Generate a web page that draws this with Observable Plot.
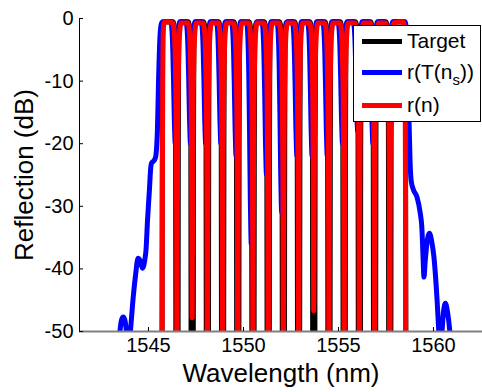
<!DOCTYPE html>
<html><head><meta charset="utf-8">
<script src="https://cdn.jsdelivr.net/npm/d3@7"></script>
<script src="https://cdn.jsdelivr.net/npm/@observablehq/plot@0.6"></script>
<style>
body{margin:0;background:#fff;}
#wrap{position:relative;width:482px;height:392px;font-family:"Liberation Sans",Arial,Helvetica,sans-serif;}
#legend{position:absolute;left:353px;top:25px;width:128px;height:97px;border:1px solid #000;background:#fff;box-sizing:border-box;}
.sw{position:absolute;left:8px;width:40px;height:5px;}
.lab{position:absolute;left:53px;height:24px;line-height:24px;font-size:21px;color:#000;white-space:nowrap;}
</style></head>
<body>
<div id="wrap">
  <div id="chart"></div>
  <div id="legend">
    <div class="sw" style="top:13px;background:#000"></div>
    <div class="lab" style="top:3px">Target</div>
    <div class="sw" style="top:44px;background:#0000ff"></div>
    <div class="lab" style="top:34px">r(T(n<span style="font-size:15px;position:relative;top:6px">s</span>))</div>
    <div class="sw" style="top:77px;background:#ff0000"></div>
    <div class="lab" style="top:67px">r(n)</div>
  </div>
</div>
<script>
// ---- data ----
const xTicks = [1545, 1550, 1555, 1560];
const yTicks = [0, -10, -20, -30, -40, -50];
const xDomain = [1541.37, 1562.58];
const yDomain = [-50, 0];
const flatTop = -0.5;

// channel boundaries (notch centres), nm
const channelDips = [1546.5, 1547.3, 1548.1, 1548.9, 1549.7, 1550.5, 1551.3, 1552.1, 1552.9, 1553.7, 1554.5, 1555.3, 1556.1, 1556.9, 1557.7];

// r(n): notch floors and shape
const redDipFloor = [-80, -47.8, -80, -80, -80, -80, -80, -80, -80, -46.7, -80, -80, -80, -80, -80];
const redNotchOffset = [0.21, 0.17, 0.126, 0.084, 0.053, 0.032, 0.016, 0];
const redNotchDb = [-0.7, -1.3, -3, -7, -13, -22, -35, -80];
const redEdgeLeftWl = [1545.71, 1545.73, 1545.75, 1545.77, 1545.80, 1545.86];
const redEdgeLeftDb = [-80, -30, -10, -3, -1, -0.5];
const redEdgeRightWl = [1558.40, 1558.46, 1558.49, 1558.51, 1558.53, 1558.55];
const redEdgeRightDb = [-0.5, -1, -3, -10, -30, -80];

// Target
const targetNotchOffset = [0.2, 0.09, 0.07, 0.06, 0.055, 0];
const targetNotchDb = [-0.5, -3, -20, -45, -70, -80];
const targetEdgeLeftWl = [1545.70, 1545.72, 1545.74, 1545.80];
const targetEdgeLeftDb = [-80, -40, -3, -0.5];
const targetEdgeRightWl = [1558.46, 1558.52, 1558.54, 1558.56];
const targetEdgeRightDb = [-0.5, -3, -40, -80];

// r(T(n_s))
const blueShift = -0.09;
const blueDipFloor = [-20, -20, -20, -20, -22, -36, -25, -31, -22, -22, -22, -20, -18, -20, -16];
const blueNotchOffset = [0.24, 0.18, 0.13, 0.09, 0.05, 0.02, 0];
const blueNotchFrac = [0.02, 0.08, 0.25, 0.5, 0.8, 0.95, 1];
const blueLeftWl = [1543.38, 1543.5, 1543.58, 1543.67, 1543.76, 1543.84, 1543.95, 1544.05, 1544.16, 1544.32, 1544.45, 1544.55, 1544.68, 1544.82, 1544.87, 1544.95, 1545.05, 1545.11, 1545.16, 1545.26, 1545.37, 1545.47, 1545.53, 1545.61, 1545.68, 1545.75];
const blueLeftDb = [-56, -50, -48.2, -47.7, -48.2, -50, -53, -50, -45.8, -41, -38.3, -38.6, -39.9, -38.3, -37, -32.2, -27.4, -24.2, -23.1, -22.8, -22.2, -17.9, -9.9, -2.7, -0.8, -0.5];
const blueRightWl = [1558.5, 1558.58, 1558.63, 1558.68, 1558.72, 1558.76, 1558.8, 1558.84, 1558.95, 1559.13, 1559.3, 1559.39, 1559.45, 1559.5, 1559.56, 1559.65, 1559.79, 1559.9, 1560.02, 1560.19, 1560.28, 1560.36, 1560.45, 1560.53, 1560.63, 1560.74, 1560.86, 1560.95];
const blueRightDb = [-0.5, -2, -6.7, -12, -17, -22, -25, -26.2, -27.4, -28.5, -31, -33.5, -38, -41.3, -39, -36, -34.3, -35.5, -38, -45, -50, -53, -50, -46.8, -45.5, -46.9, -50, -54];

// ---- build tables ----
function zip(wl, db) { return wl.map((w, i) => ({wl: w, db: db[i]})); }
function notch(center, offsets, dbs) {
  const pts = [];
  for (let k = 0; k < offsets.length; k++) pts.push({wl: center - offsets[k], db: dbs[k]});
  for (let k = offsets.length - 2; k >= 0; k--) pts.push({wl: center + offsets[k], db: dbs[k]});
  return pts;
}
const red = [...zip(redEdgeLeftWl, redEdgeLeftDb)];
channelDips.forEach((c, i) => red.push(...notch(c, redNotchOffset, redNotchDb.map(v => Math.max(v, redDipFloor[i])))));
red.push(...zip(redEdgeRightWl, redEdgeRightDb));

const target = [...zip(targetEdgeLeftWl, targetEdgeLeftDb)];
channelDips.forEach(c => target.push(...notch(c, targetNotchOffset, targetNotchDb)));
target.push(...zip(targetEdgeRightWl, targetEdgeRightDb));

const blue = [...zip(blueLeftWl, blueLeftDb)];
channelDips.forEach((c, i) => blue.push(...notch(c + blueShift, blueNotchOffset, blueNotchFrac.map(f => Math.min(flatTop, f * blueDipFloor[i])))));
blue.push(...zip(blueRightWl, blueRightDb));

const W = 482, H = 392, mL = 79, mR = 0, mT = 18, mB = 61;
const FONT = "'Liberation Sans', Arial, Helvetica, sans-serif";
const lineOpts = {x: "wl", y: "db", strokeWidth: 5, clip: true, curve: "monotone-x", strokeLinejoin: "round", strokeLinecap: "round"};

const chart = Plot.plot({
  width: W, height: H,
  marginLeft: mL, marginRight: mR, marginTop: mT, marginBottom: mB,
  style: {fontFamily: FONT, fontSize: "20px", color: "#000", background: "#fff"},
  x: {domain: xDomain},
  y: {domain: yDomain},
  marks: [
    Plot.line(target, {...lineOpts, stroke: "#000000"}),
    Plot.line(blue, {...lineOpts, stroke: "#0000ff"}),
    Plot.line(red, {...lineOpts, stroke: "#ff0000"}),
    Plot.ruleY([yDomain[0]], {stroke: "#808080", strokeWidth: 2}),
    Plot.ruleX([xDomain[0]], {stroke: "#000", strokeWidth: 1}),
    Plot.tickX(xTicks, {x: d => d, stroke: "#000", insetTop: (H - mT - mB) - 4}),
    Plot.tickY(yTicks, {y: d => d, stroke: "#000", insetRight: (W - mL - mR) - 4}),
    Plot.axisX(xTicks, {tickSize: 0, tickPadding: 6, fontSize: 20, label: null, tickFormat: d => String(d)}),
    Plot.axisY(yTicks, {tickSize: 0, tickPadding: 6, fontSize: 20, label: null, tickFormat: d => String(d)}),
    Plot.text(["Wavelength (nm)"], {text: d => d, frameAnchor: "bottom", textAnchor: "middle", lineAnchor: "middle", dy: 42, fontSize: 26, fill: "#000"}),
    Plot.text(["Reflection (dB)"], {text: d => d, frameAnchor: "left", textAnchor: "middle", lineAnchor: "middle", dx: -55, rotate: -90, fontSize: 26, fill: "#000"})
  ]
});
document.getElementById("chart").appendChild(chart);
</script>
</body></html>
